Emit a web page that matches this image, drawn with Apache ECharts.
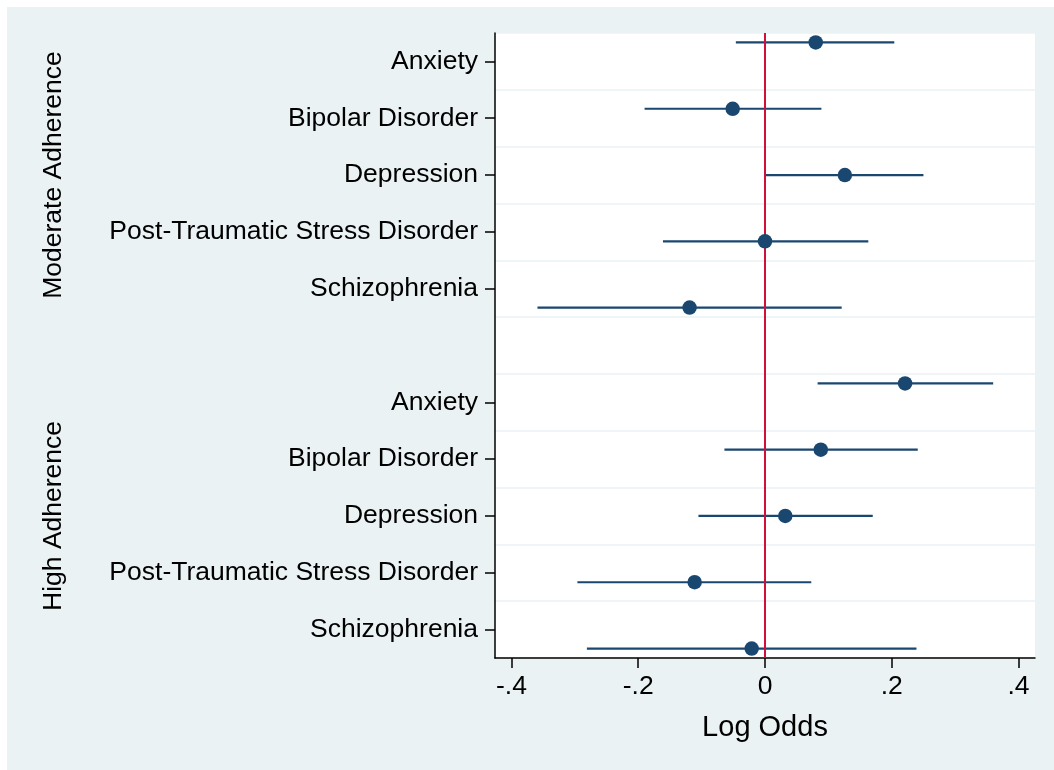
<!DOCTYPE html>
<html>
<head>
<meta charset="utf-8">
<script src="https://cdn.jsdelivr.net/npm/echarts@6/dist/echarts.min.js"></script>
<style>
  html, body { margin: 0; padding: 0; background: #ffffff; }
  #chart { width: 1054px; height: 770px; }
</style>
</head>
<body>
<div id="chart"></div>
<script>
// Conditions listed within each adherence group
const conditions = ['Anxiety', 'Bipolar Disorder', 'Depression', 'Post-Traumatic Stress Disorder', 'Schizophrenia'];
const groups = ['Moderate Adherence', 'High Adherence'];

// Log-odds estimates with lower / upper confidence limits
const moderateEst = [0.080, -0.051, 0.126, 0.000, -0.119];
const moderateLo  = [-0.046, -0.190, 0.001, -0.161, -0.359];
const moderateHi  = [0.204, 0.089, 0.250, 0.163, 0.121];

const highEst = [0.221, 0.088, 0.032, -0.111, -0.021];
const highLo  = [0.083, -0.064, -0.105, -0.296, -0.281];
const highHi  = [0.360, 0.241, 0.170, 0.073, 0.239];

const xTicks = [-0.4, -0.2, 0, 0.2, 0.4];

const NAVY = '#1a476f';
const PANEL = '#eaf2f3';
const FONT = '"Liberation Sans", Arial, Helvetica, sans-serif';
const LABEL_SIZE = 26.5;

// Row labels: five conditions, an empty spacer row, five conditions
const rowLabels = conditions.concat([''], conditions);
const rowIds = rowLabels.map((_, i) => 'row' + i);

// Marker rows sit on a slightly wider pitch than the label rows
function markerRow(g, k) {
  return 6 * g + (7 * k - 2) / 6;
}

const est = [moderateEst, highEst];
const lo = [moderateLo, highLo];
const hi = [moderateHi, highHi];

const points = [];
const intervals = [];
for (let g = 0; g < 2; g++) {
  for (let k = 0; k < conditions.length; k++) {
    const y = markerRow(g, k);
    points.push([est[g][k], y]);
    intervals.push([lo[g][k], hi[g][k], y]);
  }
}

const fmtTick = v => {
  if (Math.abs(v) < 1e-9) return '0';
  return (v < 0 ? '-' : '') + String(Math.abs(v)).replace(/^0/, '');
};

const chart = echarts.init(document.getElementById('chart'), null, { renderer: 'canvas' });

const option = {
  backgroundColor: '#ffffff',
  animation: false,
  textStyle: { fontFamily: FONT },
  grid: {
    left: 495, top: 33, right: 19, bottom: 112,
    show: true, backgroundColor: '#ffffff', borderWidth: 0
  },
  xAxis: {
    type: 'value',
    min: -0.426, max: 0.426,
    axisLine: { show: true, onZero: false, lineStyle: { color: '#000', width: 1.5 } },
    axisTick: { show: true, length: 10, lineStyle: { color: '#000', width: 1.5 }, customValues: xTicks },
    axisLabel: { fontSize: LABEL_SIZE, color: '#000', margin: 15, fontFamily: FONT, customValues: xTicks, formatter: fmtTick },
    splitLine: { show: false },
    name: 'Log Odds',
    nameLocation: 'middle',
    nameGap: 55,
    nameTextStyle: { fontSize: 29, color: '#000', fontFamily: FONT }
  },
  yAxis: [
    {
      type: 'category',
      data: rowIds,
      inverse: true,
      boundaryGap: true,
      axisLine: { show: true, onZero: false, lineStyle: { color: '#000', width: 1.5 } },
      axisTick: {
        show: true, length: 10, alignWithLabel: true,
        interval: (i) => rowLabels[i] !== '',
        lineStyle: { color: '#000', width: 1.5 }
      },
      axisLabel: {
        show: true, interval: 0, margin: 17, fontSize: LABEL_SIZE, color: '#000', fontFamily: FONT,
        padding: [4, 0, 0, 0],
        formatter: (v, i) => rowLabels[i]
      },
      splitLine: { show: true, interval: 0, lineStyle: { color: PANEL, width: 1.5 } }
    },
    {
      type: 'value',
      inverse: true,
      min: -0.5, max: 10.5,
      show: false,
      splitLine: { show: false }
    }
  ],
  graphic: [
    {
      type: 'rect', z: -10, silent: true,
      shape: { x: 7, y: 7, width: 1054 - 7, height: 770 - 7 },
      style: { fill: PANEL }
    }
  ],
  series: [
    {
      type: 'custom',
      yAxisIndex: 1,
      data: intervals,
      encode: { x: [0, 1], y: 2 },
      renderItem: function (params, api) {
        const a = api.coord([api.value(0), api.value(2)]);
        const b = api.coord([api.value(1), api.value(2)]);
        return {
          type: 'line',
          shape: { x1: a[0], y1: a[1], x2: b[0], y2: b[1] },
          style: { stroke: NAVY, lineWidth: 2.2 }
        };
      },
      z: 3
    },
    {
      type: 'scatter',
      yAxisIndex: 1,
      data: points,
      symbol: 'circle',
      symbolSize: 14.5,
      itemStyle: { color: NAVY, opacity: 1 },
      z: 5,
      markLine: {
        silent: true,
        symbol: 'none',
        label: { show: false },
        lineStyle: { color: '#d0103a', width: 2, type: 'solid' },
        data: [{ xAxis: 0 }],
        z: 4
      }
    }
  ]
};

chart.setOption(option);

// Group titles, rotated and centred on each group's middle row
const titleGraphics = groups.map((name, g) => {
  const y = chart.convertToPixel({ yAxisIndex: 0 }, 'row' + (6 * g + 2));
  return {
    type: 'text',
    x: 54, y: y,
    rotation: Math.PI / 2,
    style: {
      text: name, fill: '#000', font: LABEL_SIZE + 'px ' + FONT,
      textAlign: 'center', textVerticalAlign: 'middle'
    }
  };
});
chart.setOption({ graphic: option.graphic.concat(titleGraphics) });
</script>
</body>
</html>
